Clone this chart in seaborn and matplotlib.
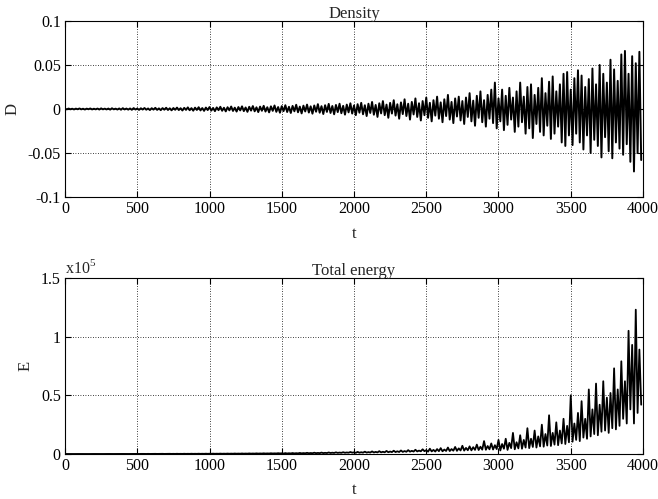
import numpy as np
import pandas as pd
import matplotlib
matplotlib.use("Agg")
import matplotlib.pyplot as plt
import seaborn as sns

# ---------------- data ----------------
# Density: local maxima (x1e-3) every 25 time units, starting at t=0
density_up = [
    0.3,0.5,0.3,0.4,0.6,0.3,0.4,0.6,0.3,0.5,0.7,0.4,0.5,0.8,0.4,0.6,0.9,0.5,0.6,1.0,
    0.5,0.8,1.1,0.6,0.9,1.3,0.7,1.0,1.4,0.8,1.1,1.6,0.9,1.3,1.8,1.0,1.5,2.0,1.1,1.6,
    2.2,1.2,1.8,2.5,1.4,2.0,2.8,1.5,2.2,3.0,1.7,2.5,3.3,1.9,2.7,3.6,2.0,3.0,4.0,2.2,
    3.2,4.3,2.5,3.5,4.8,2.7,3.8,5.0,3.0,4.0,5.5,3.2,4.3,5.8,3.4,4.6,6.0,3.6,5.0,6.5,
    4.0,5.5,7.0,4.3,6.0,8.0,4.6,6.5,9.0,5.0,7.0,10.0,5.4,7.5,11.0,6.0,8.0,12.0,6.5,9.0,
    13.0,7.0,10.0,14.0,7.5,11.0,16.0,8.0,12.0,14.0,9.0,13.0,18.0,9.5,15.0,20.0,10.0,16.0,22.0,30.0,
    12.0,22.0,15.0,24.0,13.0,20.0,30.0,14.0,25.0,28.0,16.0,24.0,35.0,18.0,31.0,37.0,20.0,28.0,40.0,42.0,
    22.0,35.0,44.0,38.0,25.0,34.0,46.0,28.0,50.0,40.0,30.0,56.0,45.0,32.0,62.0,66.0,40.0,60.0,52.0,65.0,
]
# Density: local minima (x1e-3, magnitude) every 25 time units, starting at t=12.5
density_low = [
    0.4,0.3,0.5,0.3,0.4,0.6,0.3,0.5,0.4,0.6,0.4,0.5,0.7,0.4,0.6,0.8,0.5,0.7,0.9,0.6,
    1.0,0.6,0.8,1.2,0.7,1.0,1.3,0.8,1.1,1.5,0.9,1.2,1.7,1.0,1.4,1.9,1.1,1.6,2.1,1.2,
    1.8,2.4,1.3,2.0,2.7,1.5,2.2,2.9,1.6,2.4,3.2,1.8,2.6,3.5,2.0,2.9,3.8,2.1,3.2,4.2,
    2.4,3.4,4.5,2.6,3.7,5.0,2.8,4.0,5.3,3.1,4.2,5.7,3.3,4.5,6.0,3.5,4.8,6.4,3.8,5.2,
    7.0,4.2,6.0,8.0,4.5,6.5,9.0,5.0,7.0,10.0,5.2,7.5,11.0,5.8,8.0,12.0,6.2,9.0,13.0,7.0,
    10.0,14.0,7.5,11.0,15.0,8.0,12.0,16.0,8.5,13.0,17.0,9.0,14.0,19.0,10.0,15.0,20.0,11.0,16.0,22.0,
    14.0,24.0,18.0,12.0,26.0,20.0,15.0,28.0,22.0,33.0,17.0,26.0,30.0,19.0,34.0,28.0,20.0,38.0,42.0,30.0,
    41.0,28.0,38.0,46.0,30.0,50.0,35.0,42.0,55.0,32.0,48.0,56.0,38.0,45.0,52.0,40.0,60.0,71.0,50.0,58.0,
]
# Total energy (x1e5): local maxima every 25 time units, starting at t=0
energy_up = [
    0.0002,0.0003,0.0002,0.0004,0.0003,0.0004,0.0003,0.0005,0.0004,0.0005,0.0004,0.0006,0.0005,0.0006,0.0005,0.0007,0.0006,0.0008,0.0006,0.0009,
    0.0008,0.0010,0.0009,0.0012,0.0010,0.0013,0.0011,0.0015,0.0012,0.0016,0.0014,0.0018,0.0015,0.0020,0.0017,0.0022,0.0019,0.0024,0.0021,0.0026,
    0.0024,0.0030,0.0026,0.0033,0.0029,0.0036,0.0032,0.0040,0.0035,0.0044,0.0038,0.0048,0.0042,0.0052,0.0046,0.0057,0.0050,0.0062,0.0055,0.0068,
    0.006,0.0075,0.0065,0.008,0.007,0.009,0.0078,0.010,0.0085,0.011,0.0092,0.012,0.010,0.013,0.011,0.014,0.012,0.015,0.013,0.017,
    0.014,0.018,0.015,0.020,0.016,0.022,0.018,0.024,0.019,0.026,0.021,0.028,0.023,0.030,0.025,0.033,0.027,0.036,0.029,0.040,
    0.032,0.045,0.035,0.042,0.050,0.038,0.055,0.042,0.060,0.048,0.070,0.052,0.065,0.058,0.080,0.062,0.110,0.068,0.090,0.075,
    0.12,0.085,0.13,0.095,0.18,0.10,0.16,0.12,0.22,0.13,0.20,0.15,0.25,0.17,0.33,0.18,0.27,0.20,0.30,0.24,
    0.50,0.26,0.35,0.45,0.30,0.55,0.38,0.60,0.42,0.62,0.48,0.52,0.73,0.55,0.79,0.62,1.05,0.93,1.23,0.89,
]
# Total energy (x1e5): local minima every 25 time units, starting at t=12.5
energy_low = [
    0.0000,0.0001,0.0001,0.0001,0.0001,0.0002,0.0001,0.0002,0.0002,0.0002,0.0002,0.0003,0.0002,0.0003,0.0003,0.0003,0.0003,0.0004,0.0004,0.0004,
    0.0004,0.0005,0.0005,0.0006,0.0006,0.0007,0.0007,0.0008,0.0008,0.0009,0.0009,0.0010,0.0010,0.0011,0.0012,0.0013,0.0013,0.0014,0.0015,0.0016,
    0.0017,0.0018,0.0019,0.0020,0.0021,0.0022,0.0024,0.0025,0.0026,0.0028,0.0030,0.0031,0.0033,0.0035,0.0037,0.0039,0.0041,0.0044,0.0046,0.0049,
    0.004,0.0045,0.0048,0.005,0.0053,0.0056,0.006,0.0063,0.0066,0.007,0.0074,0.0078,0.0082,0.0086,0.009,0.0095,0.010,0.0105,0.011,0.0115,
    0.010,0.011,0.0115,0.012,0.0125,0.013,0.0135,0.014,0.0145,0.015,0.016,0.0165,0.017,0.018,0.019,0.020,0.021,0.022,0.023,0.024,
    0.020,0.022,0.021,0.024,0.023,0.026,0.025,0.028,0.027,0.030,0.029,0.032,0.031,0.035,0.034,0.037,0.036,0.040,0.038,0.042,
    0.030,0.045,0.035,0.050,0.040,0.048,0.045,0.055,0.050,0.060,0.055,0.065,0.062,0.072,0.068,0.080,0.075,0.090,0.085,0.100,
    0.105,0.12,0.11,0.14,0.13,0.15,0.17,0.16,0.19,0.20,0.18,0.22,0.21,0.24,0.30,0.26,0.38,0.26,0.35,0.42,
]
t_up = np.arange(0, 4000, 25.0)
t_low = t_up + 12.5

x_ticks = [0, 500, 1000, 1500, 2000, 2500, 3000, 3500, 4000]
d_ticks = [-0.1, -0.05, 0, 0.05, 0.1]
d_labels = ["-0.1", "-0.05", "0", "0.05", "0.1"]
e_ticks = [0, 0.5, 1, 1.5]
e_labels = ["0", "0.5", "1", "1.5"]

# ---------------- build series ----------------
def interleave(t1, v1, t2, v2):
    t = np.empty(len(t1) + len(t2)); v = np.empty(len(v1) + len(v2))
    t[0::2] = t1; t[1::2] = t2
    v[0::2] = v1; v[1::2] = v2
    return t, v

td, vd = interleave(t_up, np.array(density_up) * 1e-3, t_low, -np.array(density_low) * 1e-3)
te, ve = interleave(t_up, np.array(energy_up), t_low, np.array(energy_low))
df_d = pd.DataFrame({"t": td, "D": vd})
df_e = pd.DataFrame({"t": te, "E": ve})

# ---------------- style ----------------
FS = 12
TFS = 11.5
sns.set_style("ticks")
plt.rcParams["font.family"] = ["Liberation Serif", "DejaVu Serif"]
plt.rcParams["mathtext.fontset"] = "custom"
plt.rcParams["mathtext.rm"] = "Liberation Serif"
plt.rcParams["font.size"] = FS

fig = plt.figure(figsize=(6.58, 4.99), dpi=100)
ax1 = fig.add_axes([65/658, 1 - 197/499, 578/658, 176/499])
ax2 = fig.add_axes([65/658, 1 - 454/499, 578/658, 176/499])

sns.lineplot(data=df_d, x="t", y="D", ax=ax1, color="black", lw=1.4, estimator=None)
sns.lineplot(data=df_e, x="t", y="E", ax=ax2, color="black", lw=1.3, estimator=None)

for ax, yt, yl, ylab, title in [(ax1, d_ticks, d_labels, "D", "Density"),
                                 (ax2, e_ticks, e_labels, "E", "Total energy")]:
    ax.set_xlim(0, 4000)
    ax.set_ylim(yt[0], yt[-1])
    ax.set_xticks(x_ticks)
    ax.set_xticklabels([str(v) for v in x_ticks])
    ax.set_yticks(yt)
    ax.set_yticklabels(yl)
    ax.grid(True, linestyle=(0, (1, 2)), color="black", linewidth=0.6)
    ax.tick_params(direction="in", length=4, width=0.8, top=True, right=True,
                   labelsize=TFS, pad=3, colors="black")
    for s in ax.spines.values():
        s.set_visible(True)
        s.set_linewidth(0.8)
        s.set_color("black")
    ax.set_xlabel("t", fontsize=FS, labelpad=6)
    ax.set_ylabel(ylab, fontsize=FS, labelpad=5)
    ax.set_title(title, fontsize=FS, pad=2)

ax2.text(0.0, 1.003, r"x10$^{\mathrm{5}}$", transform=ax2.transAxes,
         ha="left", va="bottom", fontsize=TFS)

fig.savefig("out.png", dpi=100)
